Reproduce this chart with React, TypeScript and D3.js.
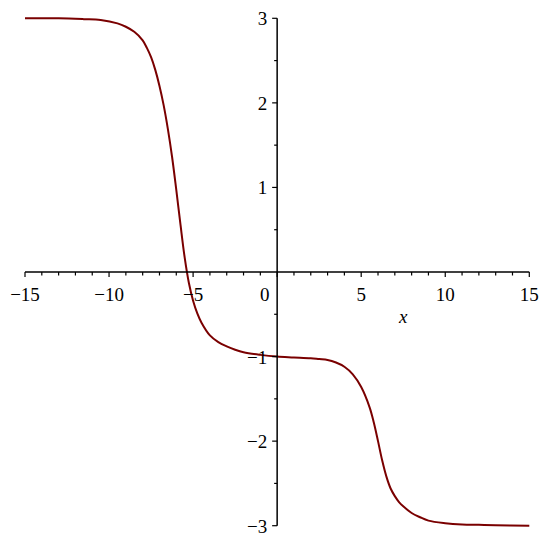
import React from "react";
import * as d3 from "d3";

// values
const xValues = [
  -15, -13, -11.5, -10.5, -9.5, -9, -8.5, -8, -7.75, -7.5, -7.25, -7, -6.75,
  -6.5, -6.25, -6, -5.75, -5.5, -5.25, -5, -4.75, -4.5, -4, -3.5, -3, -2.5, -2,
  -1, 0, 1, 2, 2.5, 3, 3.5, 4, 4.5, 5, 5.5, 5.75, 6, 6.25, 6.5, 6.75, 7, 7.25,
  7.5, 8, 8.5, 9, 10, 11, 12, 13, 15,
];
const yValues = [
  3.0, 3.0, 2.99, 2.98, 2.94, 2.9, 2.84, 2.74, 2.65, 2.54, 2.39, 2.2, 1.97,
  1.69, 1.36, 0.97, 0.56, 0.17, -0.13, -0.34, -0.49, -0.6, -0.75, -0.83, -0.88,
  -0.92, -0.95, -0.98, -1.0, -1.01, -1.02, -1.03, -1.04, -1.07, -1.12, -1.21,
  -1.36, -1.6, -1.78, -2.0, -2.23, -2.42, -2.56, -2.65, -2.72, -2.77, -2.85,
  -2.9, -2.94, -2.97, -2.985, -2.99, -2.995, -3.0,
];

const xTickLabels = ["−15", "−10", "−5", "0", "5", "10", "15"];
const xMajor = [-15, -10, -5, 0, 5, 10, 15];
const yTickLabels = ["−3", "−2", "−1", "1", "2", "3"];
const yMajor = [-3, -2, -1, 1, 2, 3];

const App = () => {
  const width = 550,
    height = 541;
  const margin = { top: 18.3, right: 20.7, bottom: 15.3, left: 25 };

  const xScale = d3
    .scaleLinear()
    .domain([-15, 15])
    .range([margin.left, width - margin.right]);
  const yScale = d3
    .scaleLinear()
    .domain([-3, 3])
    .range([height - margin.bottom, margin.top]);

  const data = xValues.map((x, i) => [x, yValues[i]] as [number, number]);
  const line = d3
    .line<[number, number]>()
    .x((d) => xScale(d[0]))
    .y((d) => yScale(d[1]))
    .curve(d3.curveCatmullRom.alpha(0.5));

  const x0 = xScale(0);
  const y0 = yScale(0);
  const font = "'Liberation Serif', 'Times New Roman', serif";

  const xMinor = xScale.ticks(30).filter((t) => !xMajor.includes(t));
  const yMinor = yScale.ticks(12).filter((t) => !yMajor.includes(t) && t !== 0);

  return (
    <svg
      width={width}
      height={height}
      style={{ position: "absolute", left: 0, top: 0, background: "#fff" }}
    >
      {/* curve */}
      <path
        d={line(data) || ""}
        fill="none"
        stroke="#7a0000"
        strokeWidth={2}
      />

      {/* x axis */}
      <line
        x1={xScale(-15)}
        x2={xScale(15)}
        y1={y0}
        y2={y0}
        stroke="#000"
        strokeWidth={1.5}
      />
      {xMinor.map((t) => (
        <line
          key={"xm" + t}
          x1={xScale(t)}
          x2={xScale(t)}
          y1={y0}
          y2={y0 + 3.5}
          stroke="#000"
          strokeWidth={1.2}
        />
      ))}
      {xMajor.map((t) => (
        <line
          key={"xM" + t}
          x1={xScale(t)}
          x2={xScale(t)}
          y1={y0}
          y2={y0 + 5}
          stroke="#000"
          strokeWidth={1.2}
        />
      ))}
      {xMajor.map((t, i) => (
        <text
          key={"xl" + t}
          x={t === 0 ? xScale(t) - 12.5 : xScale(t)}
          y={y0 + 29}
          textAnchor="middle"
          fontFamily={font}
          fontSize={19}
          fill="#000"
        >
          {xTickLabels[i]}
        </text>
      ))}
      <text
        x={xScale(7.5)}
        y={y0 + 51}
        textAnchor="middle"
        fontFamily={font}
        fontStyle="italic"
        fontSize={19}
        fill="#000"
      >
        x
      </text>

      {/* y axis */}
      <line
        x1={x0}
        x2={x0}
        y1={yScale(3)}
        y2={yScale(-3)}
        stroke="#000"
        strokeWidth={1.5}
      />
      {yMinor.map((t) => (
        <line
          key={"ym" + t}
          x1={x0}
          x2={x0 - 3}
          y1={yScale(t)}
          y2={yScale(t)}
          stroke="#000"
          strokeWidth={1.2}
        />
      ))}
      {yMajor.map((t) => (
        <line
          key={"yM" + t}
          x1={x0}
          x2={x0 - 5}
          y1={yScale(t)}
          y2={yScale(t)}
          stroke="#000"
          strokeWidth={1.2}
        />
      ))}
      {yMajor.map((t, i) => (
        <text
          key={"yl" + t}
          x={x0 - 10}
          y={yScale(t) + 7}
          textAnchor="end"
          fontFamily={font}
          fontSize={19}
          fill="#000"
        >
          {yTickLabels[i]}
        </text>
      ))}
    </svg>
  );
};

export default App;
